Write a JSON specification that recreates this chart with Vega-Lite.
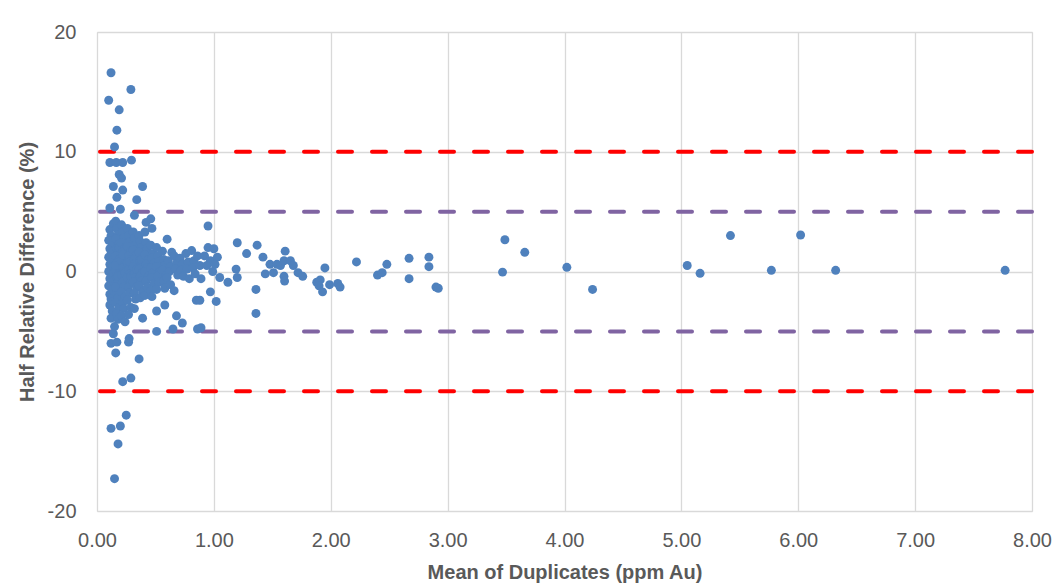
{
  "$schema": "https://vega.github.io/schema/vega-lite/v6.json",
  "autosize": {"type": "none"},
  "width": 935,
  "height": 479,
  "padding": {"left": 97, "top": 32, "right": 21, "bottom": 77},
  "background": "white",
  "config": {
    "view": {"stroke": "#d9d9d9", "strokeWidth": 1},
    "axis": {
      "labelFont": "Liberation Sans", "labelFontSize": 20, "labelColor": "#595959",
      "titleFont": "Liberation Sans", "titleFontSize": 20, "titleFontWeight": "bold", "titleColor": "#595959",
      "gridColor": "#d9d9d9", "gridWidth": 1.3, "domain": false, "ticks": false,
      "labelFlush": false, "labelOverlap": false,
      "labelExpr": "replace(datum.label, '\u2212', '-')"
    }
  },
  "layer": [
    {
      "data": {"values": [
        {"lim": 10, "band": "10%"}, {"lim": -10, "band": "10%"},
        {"lim": 5, "band": "5%"}, {"lim": -5, "band": "5%"}
      ]},
      "mark": {"type": "rule", "strokeWidth": 4, "strokeDash": [14, 20], "strokeCap": "round"},
      "encoding": {
        "y": {"field": "lim", "type": "quantitative", "scale": {"domain": [-20, 20]}},
        "color": {"field": "band", "type": "nominal", "scale": {"domain": ["10%", "5%"], "range": ["#FF0000", "#8064A2"]}, "legend": null}
      }
    },
    {
      "data": {"values": [
        {"mean":0.12,"hrd":16.6},{"mean":0.29,"hrd":15.2},{"mean":0.10,"hrd":14.3},{"mean":0.19,"hrd":13.5},{"mean":0.17,"hrd":11.8},{"mean":0.15,"hrd":10.4},
        {"mean":0.11,"hrd":9.1},{"mean":0.165,"hrd":9.1},{"mean":0.22,"hrd":9.1},{"mean":0.295,"hrd":9.3},{"mean":0.19,"hrd":8.1},{"mean":0.21,"hrd":7.8},
        {"mean":0.14,"hrd":7.1},{"mean":0.39,"hrd":7.1},{"mean":0.22,"hrd":6.8},{"mean":0.17,"hrd":6.2},{"mean":0.34,"hrd":6.0},{"mean":0.11,"hrd":5.3},
        {"mean":0.20,"hrd":5.2},{"mean":0.46,"hrd":4.4},
        {"mean":0.14,"hrd":-5.2},{"mean":0.12,"hrd":-6.0},{"mean":0.16,"hrd":-6.8},{"mean":0.17,"hrd":-5.9},{"mean":0.27,"hrd":-5.9},{"mean":0.275,"hrd":-5.6},
        {"mean":0.36,"hrd":-7.3},{"mean":0.22,"hrd":-9.2},{"mean":0.29,"hrd":-8.9},{"mean":0.25,"hrd":-12.0},{"mean":0.12,"hrd":-13.1},{"mean":0.20,"hrd":-12.9},
        {"mean":0.18,"hrd":-14.4},{"mean":0.15,"hrd":-17.3},{"mean":0.51,"hrd":-5.0},{"mean":0.65,"hrd":-4.8},{"mean":0.86,"hrd":-4.8},

        {"mean":0.11,"hrd":3.5},{"mean":0.12,"hrd":3.0},{"mean":0.10,"hrd":2.6},{"mean":0.13,"hrd":2.2},{"mean":0.11,"hrd":1.9},{"mean":0.12,"hrd":1.5},
        {"mean":0.10,"hrd":1.2},{"mean":0.13,"hrd":0.9},{"mean":0.11,"hrd":0.6},{"mean":0.12,"hrd":0.3},{"mean":0.10,"hrd":0.0},{"mean":0.13,"hrd":-0.3},
        {"mean":0.11,"hrd":-0.6},{"mean":0.12,"hrd":-0.9},{"mean":0.10,"hrd":-1.2},{"mean":0.13,"hrd":-1.5},{"mean":0.11,"hrd":-1.9},{"mean":0.12,"hrd":-2.3},
        {"mean":0.11,"hrd":-2.8},{"mean":0.13,"hrd":-3.3},{"mean":0.12,"hrd":-3.9},{"mean":0.14,"hrd":4.0},{"mean":0.14,"hrd":2.4},{"mean":0.14,"hrd":1.7},
        {"mean":0.14,"hrd":1.0},{"mean":0.14,"hrd":0.4},{"mean":0.14,"hrd":-0.2},{"mean":0.14,"hrd":-0.8},{"mean":0.14,"hrd":-1.6},{"mean":0.14,"hrd":-2.5},

        {"mean":0.16,"hrd":4.2},{"mean":0.17,"hrd":3.6},{"mean":0.18,"hrd":3.1},{"mean":0.16,"hrd":2.7},{"mean":0.19,"hrd":2.3},{"mean":0.17,"hrd":1.9},
        {"mean":0.18,"hrd":1.6},{"mean":0.16,"hrd":1.3},{"mean":0.19,"hrd":1.0},{"mean":0.17,"hrd":0.7},{"mean":0.18,"hrd":0.4},{"mean":0.16,"hrd":0.1},
        {"mean":0.19,"hrd":-0.2},{"mean":0.17,"hrd":-0.5},{"mean":0.18,"hrd":-0.8},{"mean":0.16,"hrd":-1.1},{"mean":0.19,"hrd":-1.4},{"mean":0.17,"hrd":-1.8},
        {"mean":0.18,"hrd":-2.2},{"mean":0.16,"hrd":-2.6},{"mean":0.19,"hrd":-3.0},{"mean":0.17,"hrd":-3.5},{"mean":0.18,"hrd":-4.0},{"mean":0.15,"hrd":-4.6},
        {"mean":0.19,"hrd":2.0},{"mean":0.16,"hrd":0.5},{"mean":0.18,"hrd":-0.4},{"mean":0.16,"hrd":-1.3},

        {"mean":0.21,"hrd":3.9},{"mean":0.22,"hrd":3.3},{"mean":0.23,"hrd":2.8},{"mean":0.21,"hrd":2.4},{"mean":0.24,"hrd":2.0},{"mean":0.22,"hrd":1.6},
        {"mean":0.23,"hrd":1.2},{"mean":0.21,"hrd":0.9},{"mean":0.24,"hrd":0.6},{"mean":0.22,"hrd":0.3},{"mean":0.23,"hrd":0.0},{"mean":0.21,"hrd":-0.3},
        {"mean":0.24,"hrd":-0.6},{"mean":0.22,"hrd":-0.9},{"mean":0.23,"hrd":-1.3},{"mean":0.21,"hrd":-1.7},{"mean":0.24,"hrd":-2.1},{"mean":0.22,"hrd":-2.6},
        {"mean":0.23,"hrd":-3.1},{"mean":0.21,"hrd":-3.7},{"mean":0.24,"hrd":-4.2},{"mean":0.22,"hrd":1.4},{"mean":0.24,"hrd":-0.1},

        {"mean":0.26,"hrd":3.6},{"mean":0.27,"hrd":3.0},{"mean":0.28,"hrd":2.5},{"mean":0.26,"hrd":2.1},{"mean":0.29,"hrd":1.7},{"mean":0.27,"hrd":1.3},
        {"mean":0.28,"hrd":1.0},{"mean":0.26,"hrd":0.7},{"mean":0.29,"hrd":0.4},{"mean":0.27,"hrd":0.1},{"mean":0.28,"hrd":-0.2},{"mean":0.26,"hrd":-0.5},
        {"mean":0.29,"hrd":-0.9},{"mean":0.27,"hrd":-1.3},{"mean":0.28,"hrd":-1.8},{"mean":0.26,"hrd":-2.4},{"mean":0.29,"hrd":-3.0},{"mean":0.27,"hrd":-3.6},
        {"mean":0.28,"hrd":0.8},{"mean":0.29,"hrd":-0.4},

        {"mean":0.31,"hrd":3.3},{"mean":0.32,"hrd":2.8},{"mean":0.33,"hrd":2.2},{"mean":0.31,"hrd":1.8},{"mean":0.34,"hrd":1.4},{"mean":0.32,"hrd":1.0},
        {"mean":0.33,"hrd":0.7},{"mean":0.31,"hrd":0.4},{"mean":0.34,"hrd":0.1},{"mean":0.32,"hrd":-0.2},{"mean":0.33,"hrd":-0.5},{"mean":0.31,"hrd":-0.9},
        {"mean":0.34,"hrd":-1.3},{"mean":0.32,"hrd":-1.8},{"mean":0.33,"hrd":-2.3},{"mean":0.32,"hrd":-3.1},{"mean":0.32,"hrd":4.7},{"mean":0.34,"hrd":0.2},

        {"mean":0.36,"hrd":3.0},{"mean":0.37,"hrd":2.5},{"mean":0.38,"hrd":2.0},{"mean":0.36,"hrd":1.6},{"mean":0.39,"hrd":1.2},{"mean":0.37,"hrd":0.9},
        {"mean":0.38,"hrd":0.5},{"mean":0.36,"hrd":0.2},{"mean":0.39,"hrd":-0.1},{"mean":0.37,"hrd":-0.4},{"mean":0.38,"hrd":-0.8},{"mean":0.36,"hrd":-1.2},
        {"mean":0.39,"hrd":-1.7},{"mean":0.37,"hrd":-2.2},{"mean":0.39,"hrd":-3.9},{"mean":0.38,"hrd":1.0},

        {"mean":0.41,"hrd":3.3},{"mean":0.42,"hrd":2.4},{"mean":0.43,"hrd":1.9},{"mean":0.41,"hrd":1.4},{"mean":0.44,"hrd":1.0},{"mean":0.42,"hrd":0.6},
        {"mean":0.43,"hrd":0.3},{"mean":0.41,"hrd":0.0},{"mean":0.44,"hrd":-0.4},{"mean":0.42,"hrd":-0.8},{"mean":0.43,"hrd":-1.3},{"mean":0.41,"hrd":-2.0},
        {"mean":0.42,"hrd":4.1},

        {"mean":0.47,"hrd":3.6},{"mean":0.46,"hrd":2.2},{"mean":0.48,"hrd":1.5},{"mean":0.47,"hrd":1.1},{"mean":0.49,"hrd":0.7},{"mean":0.46,"hrd":0.3},
        {"mean":0.48,"hrd":-0.1},{"mean":0.47,"hrd":-0.5},{"mean":0.49,"hrd":-1.0},{"mean":0.46,"hrd":-1.6},{"mean":0.47,"hrd":-2.1},

        {"mean":0.51,"hrd":2.0},{"mean":0.52,"hrd":1.3},{"mean":0.53,"hrd":0.8},{"mean":0.51,"hrd":0.4},{"mean":0.54,"hrd":0.0},{"mean":0.52,"hrd":-0.4},
        {"mean":0.53,"hrd":-0.9},{"mean":0.51,"hrd":-1.5},{"mean":0.51,"hrd":-3.3},
        {"mean":0.56,"hrd":1.7},{"mean":0.57,"hrd":1.0},{"mean":0.58,"hrd":0.5},{"mean":0.56,"hrd":0.1},{"mean":0.59,"hrd":-0.3},{"mean":0.57,"hrd":-0.8},
        {"mean":0.58,"hrd":-1.4},{"mean":0.58,"hrd":-2.8},
        {"mean":0.60,"hrd":2.7},{"mean":0.64,"hrd":1.6},{"mean":0.61,"hrd":0.9},{"mean":0.63,"hrd":0.4},{"mean":0.62,"hrd":0.0},{"mean":0.60,"hrd":-0.5},
        {"mean":0.63,"hrd":-1.1},
        {"mean":0.66,"hrd":1.3},{"mean":0.68,"hrd":0.7},{"mean":0.67,"hrd":0.2},{"mean":0.69,"hrd":-0.3},{"mean":0.66,"hrd":-1.6},{"mean":0.68,"hrd":-3.7},
        {"mean":0.71,"hrd":1.1},{"mean":0.73,"hrd":0.6},{"mean":0.72,"hrd":0.1},{"mean":0.74,"hrd":-0.4},{"mean":0.73,"hrd":-4.3},
        {"mean":0.76,"hrd":1.5},{"mean":0.78,"hrd":0.8},{"mean":0.77,"hrd":0.2},{"mean":0.79,"hrd":-0.6},
        {"mean":0.81,"hrd":1.75},{"mean":0.83,"hrd":0.9},{"mean":0.82,"hrd":0.3},{"mean":0.84,"hrd":-0.2},
        {"mean":0.86,"hrd":1.3},{"mean":0.88,"hrd":0.5},{"mean":0.89,"hrd":-0.6},{"mean":0.85,"hrd":-2.4},{"mean":0.88,"hrd":-2.4},
        {"mean":0.95,"hrd":3.8},{"mean":0.95,"hrd":2.0},{"mean":1.00,"hrd":1.9},{"mean":0.92,"hrd":1.3},{"mean":0.97,"hrd":0.9},{"mean":0.94,"hrd":0.5},
        {"mean":0.99,"hrd":0.0},{"mean":0.97,"hrd":-1.7},{"mean":1.02,"hrd":-2.5},{"mean":1.03,"hrd":1.2},{"mean":1.01,"hrd":0.6},{"mean":1.05,"hrd":-0.5},
        {"mean":1.12,"hrd":-0.9},{"mean":0.89,"hrd":-4.7},

        {"mean":1.20,"hrd":2.4},{"mean":1.37,"hrd":2.2},{"mean":1.28,"hrd":1.5},{"mean":1.42,"hrd":1.2},{"mean":1.19,"hrd":0.2},{"mean":1.20,"hrd":-0.5},
        {"mean":1.36,"hrd":-1.5},{"mean":1.36,"hrd":-3.5},{"mean":1.44,"hrd":-0.2},{"mean":1.48,"hrd":0.6},{"mean":1.51,"hrd":-0.1},{"mean":1.54,"hrd":0.6},
        {"mean":1.57,"hrd":0.5},{"mean":1.60,"hrd":0.9},{"mean":1.61,"hrd":1.7},{"mean":1.60,"hrd":-0.4},{"mean":1.605,"hrd":-0.8},{"mean":1.655,"hrd":0.9},
        {"mean":1.68,"hrd":0.5},{"mean":1.72,"hrd":-0.1},{"mean":1.76,"hrd":-0.4},{"mean":1.88,"hrd":-0.9},{"mean":1.91,"hrd":-0.7},{"mean":1.90,"hrd":-1.2},
        {"mean":1.93,"hrd":-1.7},{"mean":1.95,"hrd":0.3},{"mean":1.99,"hrd":-1.1},{"mean":2.06,"hrd":-1.0},{"mean":2.08,"hrd":-1.3},{"mean":2.22,"hrd":0.8},
        {"mean":2.40,"hrd":-0.3},{"mean":2.44,"hrd":-0.1},{"mean":2.48,"hrd":0.6},{"mean":2.67,"hrd":1.1},{"mean":2.67,"hrd":-0.6},{"mean":2.84,"hrd":1.2},
        {"mean":2.84,"hrd":0.4},{"mean":2.90,"hrd":-1.3},{"mean":2.92,"hrd":-1.4},
        {"mean":3.47,"hrd":-0.05},{"mean":3.49,"hrd":2.65},{"mean":3.66,"hrd":1.6},{"mean":4.02,"hrd":0.35},{"mean":4.24,"hrd":-1.5},{"mean":5.05,"hrd":0.5},
        {"mean":5.16,"hrd":-0.15},{"mean":5.42,"hrd":3.0},{"mean":5.77,"hrd":0.1},{"mean":6.02,"hrd":3.05},{"mean":6.32,"hrd":0.1},{"mean":7.77,"hrd":0.1}
      ]},
      "mark": {"type": "point", "filled": true, "opacity": 1, "size": 80, "color": "#4F81BD"},
      "encoding": {
        "x": {"field": "mean", "type": "quantitative", "title": "Mean of Duplicates (ppm Au)",
              "scale": {"domain": [0, 8], "nice": false, "padding": 0},
              "axis": {"values": [0, 1, 2, 3, 4, 5, 6, 7, 8], "format": ".2f", "labelPadding": 19, "titlePadding": 12}},
        "y": {"field": "hrd", "type": "quantitative", "title": "Half Relative Difference (%)",
              "scale": {"domain": [-20, 20], "nice": false, "padding": 0},
              "axis": {"values": [-20, -10, 0, 10, 20], "labelPadding": 21, "titlePadding": 10}}
      }
    }
  ]
}
